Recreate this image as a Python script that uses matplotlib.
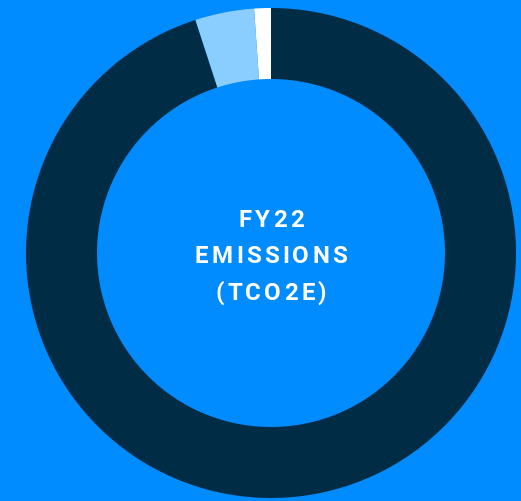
import matplotlib
matplotlib.use("Agg")
import matplotlib.pyplot as plt

labels = ["Other", "Scope 2", "Scope 1"]
values = [1.1, 3.9, 95.0]
colors = ["#ffffff", "#8acdff", "#012c46"]
center_lines = ["FY22", "EMISSIONS", "(TCO2E)"]

W, H = 521, 501
bg = "#008cff"
fig = plt.figure(figsize=(W / 100, H / 100), dpi=100, facecolor=bg)
ax = fig.add_axes([0, 0, 1, 1])
ax.set_facecolor(bg)

cx, cy = 271, H - 253
R, r = 245, 174
ax.pie(values, colors=colors, startangle=90, counterclock=True,
       center=(cx, cy), radius=R,
       wedgeprops=dict(width=R - r, linewidth=0, antialiased=True))
ax.set_xlim(0, W)
ax.set_ylim(0, H)
ax.set_aspect("auto")
ax.axis("off")

fs = 17.3
tracking = 3.2  # px between letters
baselines = [227, 263, 300]
fig.canvas.draw()
renderer = fig.canvas.get_renderer()
for line, by in zip(center_lines, baselines):
    widths = []
    for ch in line:
        t = ax.text(0, 0, ch, fontsize=fs, fontweight="bold", family=["Roboto", "DejaVu Sans"])
        bb = t.get_window_extent(renderer=renderer)
        widths.append(bb.width)
        t.remove()
    total = sum(widths) + tracking * (len(line) - 1)
    x = cx - total / 2
    for ch, w in zip(line, widths):
        ax.text(x, H - by, ch, fontsize=fs, fontweight="bold", color="white",
                family=["Roboto", "DejaVu Sans"], ha="left", va="baseline")
        x += w + tracking

fig.savefig("out.png", dpi=100, facecolor=bg)
